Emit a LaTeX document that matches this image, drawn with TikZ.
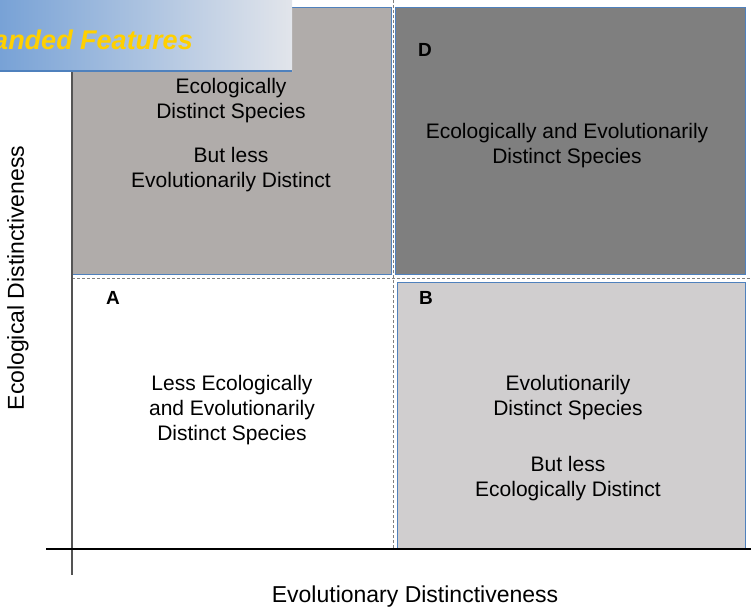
\documentclass[tikz,border=0pt]{standalone}
\usepackage{fontspec}
\setmainfont{Liberation Sans}
\definecolor{quadC}{RGB}{176,172,170}
\definecolor{quadD}{RGB}{127,127,127}
\definecolor{quadB}{RGB}{208,206,207}
\definecolor{edgeblue}{RGB}{79,129,189}
\definecolor{bannerL}{RGB}{120,162,214}
\definecolor{bannerR}{RGB}{226,229,235}
\definecolor{bannergold}{RGB}{255,208,0}
\begin{document}
\begin{tikzpicture}[x=1pt,y=-1pt,
  quadbox/.style={draw=edgeblue,line width=1pt},
  quadtext/.style={align=center,inner sep=0pt,font=\fontsize{21}{25}\selectfont},
  quadletter/.style={inner sep=0pt,font=\fontsize{19}{22}\selectfont\bfseries},
  axislabel/.style={inner sep=0pt,font=\fontsize{23}{28}\selectfont}]
\useasboundingbox (0,0) rectangle (751,610);
        \draw[quadbox,fill=quadC] (72,8) rectangle (391,274);
        \draw[quadbox,fill=quadD] (395,8) rectangle (745,274);
        \draw[quadbox,fill=quadB] (397,282) rectangle (745,548);
        \draw[gray,line width=0.8pt,dash pattern=on 3pt off 2pt] (393,0)--(393,548) (72,278.5)--(751,278.5);
        \draw[line width=2pt,black!67] (72,8)--(72,575);
        \draw[line width=2pt] (46,549)--(751,549);
        \node[quadtext] (textC) at (231,135) {Ecologically\\Distinct Species\\[19pt]But less\\Evolutionarily Distinct};
        \node[quadletter] (labD) at (425,50) {D};
        \node[quadtext] (textD) at (567,146) {Ecologically and Evolutionarily\\Distinct Species};
        \node[quadletter] (labA) at (113,298) {A};
        \node[quadtext] (textA) at (232,410) {Less Ecologically\\and Evolutionarily\\Distinct Species};
        \node[quadletter] (labB) at (426,298) {B};
        \node[quadtext] (textB) at (568,438) {Evolutionarily\\Distinct Species\\[31pt]But less\\Ecologically Distinct};
        \node[axislabel,rotate=90] (ylab) at (18,278) {Ecological Distinctiveness};
        \node[axislabel] (xlab) at (415,597) {Evolutionary Distinctiveness};
        \shade[left color=bannerL,right color=bannerR] (0,0) rectangle (292,71);
        \draw[edgeblue,line width=2pt] (0,71)--(292,71);
        \node[anchor=base east,inner sep=0pt,text=bannergold,font=\fontsize{27}{31}\selectfont\bfseries\itshape] (banner) at (193,49) {anded Features};
\end{tikzpicture}
\end{document}
